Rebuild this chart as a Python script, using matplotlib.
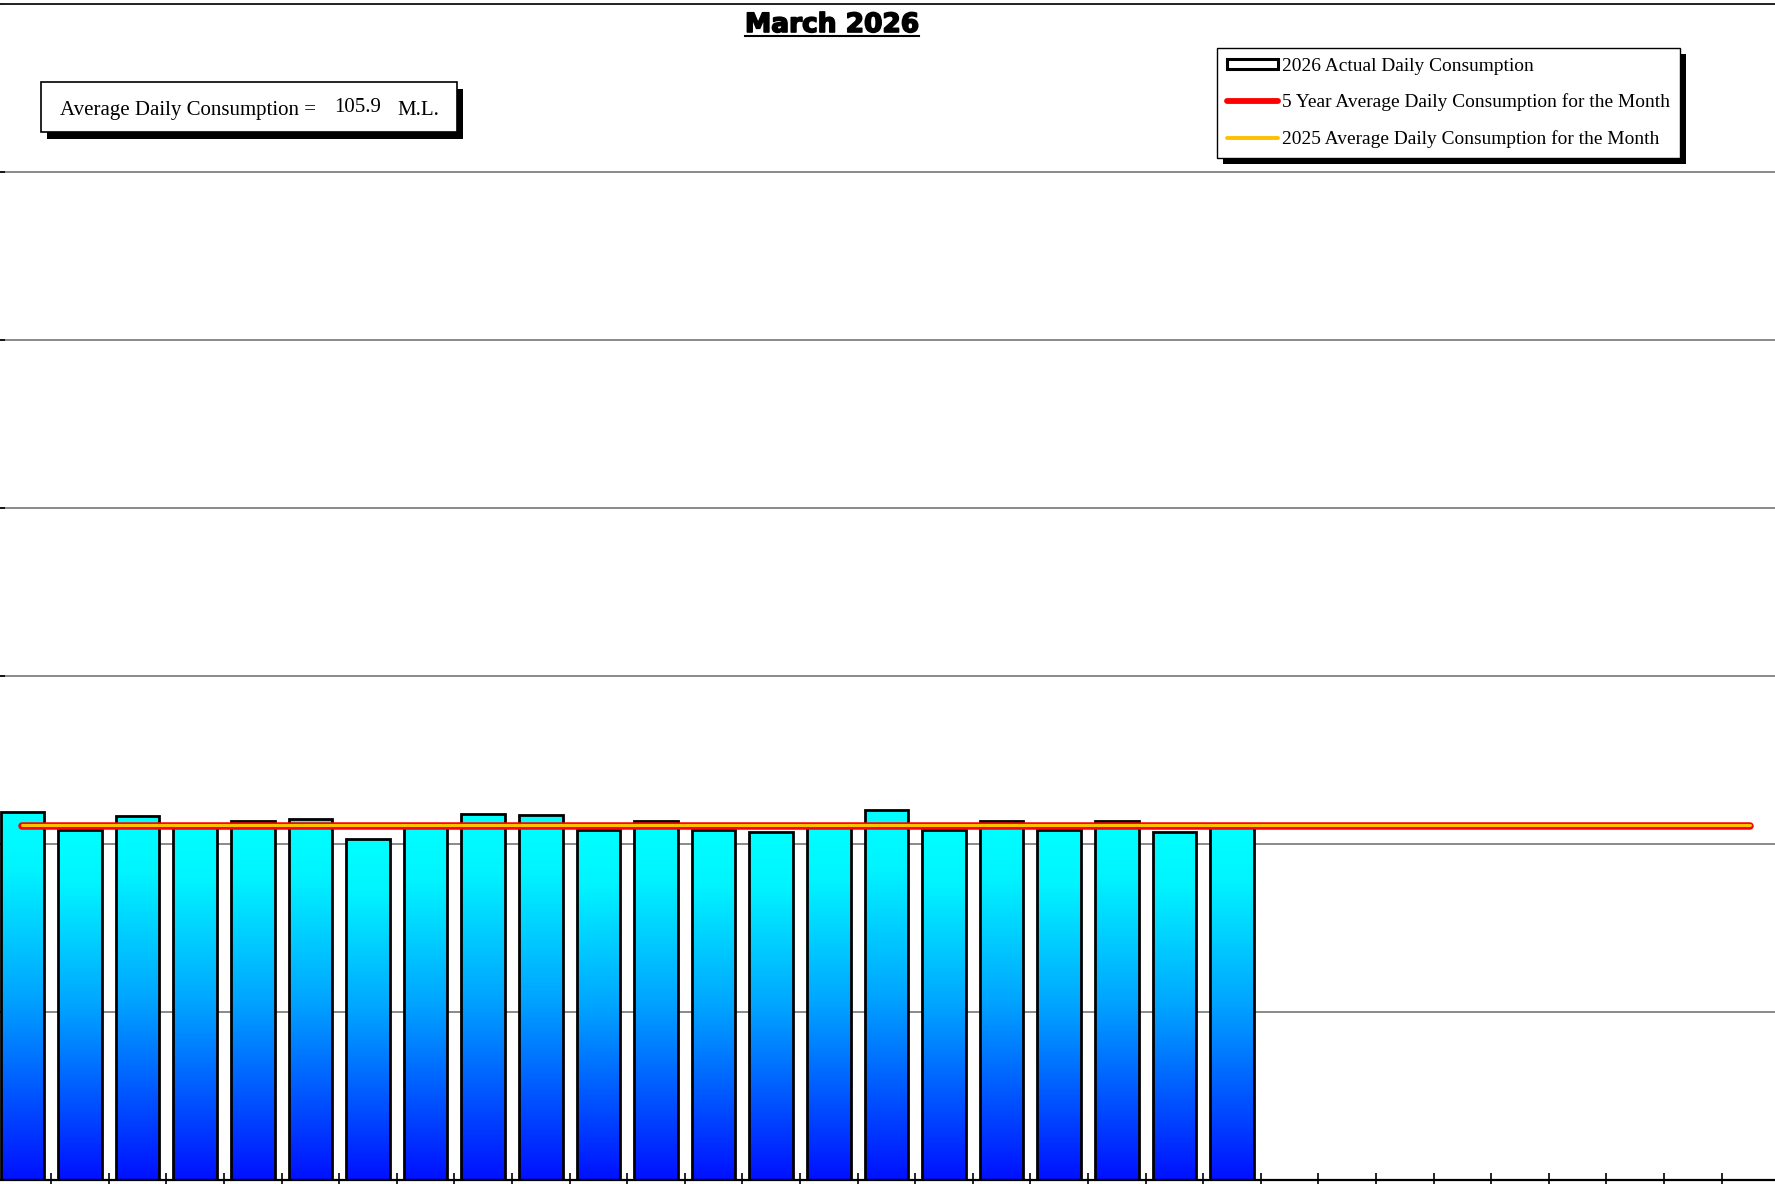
import numpy as np
import matplotlib.pyplot as plt
import matplotlib.patheffects as pe
from matplotlib.colors import LinearSegmentedColormap
from matplotlib.patches import Patch, Rectangle
from matplotlib.lines import Line2D

# March 2026 daily consumption (M.L.)
days = list(range(1, 32))
consumption_2026 = [109.6, 104.2, 108.2, 105.7, 106.9, 107.3, 101.3, 105.4, 108.9, 108.5,
                    104.0, 106.8, 104.1, 103.5, 105.4, 110.0, 104.2, 106.8, 104.0, 106.9,
                    103.6, 105.4]
five_year_avg = 105.4
avg_2025 = 105.5
month_avg = 105.9
title = "March 2026"
y_max = 350
y_step = 50

W, H = 1775, 1184


def fx(px):
    return px / W


def fy(py):
    return 1 - py / H


fig = plt.figure(figsize=(W / 100, H / 100), dpi=100)
ax = fig.add_axes([fx(-6.4), 4 / H, 1785.6 / W, 1176.5 / H])

x = np.arange(len(days))
bars = ax.bar(x[:len(consumption_2026)], consumption_2026, width=0.76,
              facecolor="none", edgecolor="black", linewidth=2.0, zorder=3)

grad = LinearSegmentedColormap.from_list(
    "bar_grad", [(0, "#0010ff"), (0.5, "#00a5ff"), (0.85, "#00f5ff"), (1, "#00ffff")])
ramp = np.linspace(0, 1, 256).reshape(-1, 1)
for b in bars:
    x0, y0 = b.get_x(), b.get_y()
    im = ax.imshow(ramp, cmap=grad, origin="lower", aspect="auto", interpolation="bilinear",
                   extent=[x0, x0 + b.get_width(), y0, y0 + b.get_height()], zorder=2)
    im.set_clip_path(b)

ax.plot(x, [five_year_avg] * len(days), color="red", lw=5.4,
        solid_capstyle="round", zorder=4)
ax.plot(x, [avg_2025] * len(days), color="#ffc000", lw=2.2,
        solid_capstyle="round", zorder=5)

ax.set_xlim(-0.5, len(days) - 0.5)
ax.set_ylim(0, y_max)
ax.set_yticks(np.arange(0, y_max + 1, y_step))
ax.set_xticks(np.arange(-0.5, len(days)))
ax.tick_params(axis="x", direction="inout", length=10, width=1.2,
               labelbottom=False, color="black")
ax.tick_params(axis="y", direction="inout", length=16, width=1.2, labelleft=False)
ax.grid(axis="y", color="#808080", lw=1.3)
ax.set_axisbelow(True)
for s in ["left", "right"]:
    ax.spines[s].set_visible(False)
ax.spines["top"].set_color("#222222")
ax.spines["top"].set_linewidth(1.4)
ax.spines["bottom"].set_linewidth(1.6)

# title
t = fig.text(fx(832), fy(32), title, ha="center", va="baseline",
             fontsize=19, fontweight="bold", family="DejaVu Sans",
             path_effects=[pe.withStroke(linewidth=1.2, foreground="black")])

# average text box
fig.add_artist(Rectangle((fx(47), fy(139)), fx(457) - fx(41), (132 - 82) / H,
                         transform=fig.transFigure, facecolor="black",
                         edgecolor="none", zorder=5))
fig.add_artist(Rectangle((fx(41), fy(132)), fx(457) - fx(41), (132 - 82) / H,
                         transform=fig.transFigure, facecolor="white",
                         edgecolor="black", lw=1.2, zorder=6))
serif = "Liberation Serif"
fig.text(fx(60), fy(110.5), "Average Daily Consumption =", ha="left", va="center",
         fontsize=15, family=serif, zorder=7)
fig.text(fx(334), fy(107.5), f"{month_avg:.1f}", ha="left", va="center",
         fontsize=15, family=serif, zorder=7)
fig.text(fx(397), fy(110.5), "M.L.", ha="left", va="center",
         fontsize=15, family=serif, zorder=7)

# legend
handles = [
    Patch(facecolor="white", edgecolor="black", lw=2.2),
    Line2D([], [], color="red", lw=4.2, solid_capstyle="round"),
    Line2D([], [], color="#ffc000", lw=2.8, solid_capstyle="round"),
]
labels = [
    "2026 Actual Daily Consumption",
    "5 Year Average Daily Consumption for the Month",
    "2025 Average Daily Consumption for the Month",
]
leg = fig.legend(handles, labels, loc="upper left",
                 bbox_to_anchor=(fx(1217), fy(48)), bbox_transform=fig.transFigure,
                 frameon=True, fancybox=False, edgecolor="black", framealpha=1,
                 prop={"family": serif, "size": 13.95}, handlelength=2.65,
                 handleheight=0.45, handletextpad=0.2, labelspacing=0.97,
                 borderpad=0.5, borderaxespad=0)
leg.get_frame().set_linewidth(1.0)
leg.set_zorder(8)

fig.canvas.draw()
r = fig.canvas.get_renderer()

bb = leg.get_window_extent(r)
fig.add_artist(Rectangle((bb.x0 / W + fx(6), bb.y0 / H - 6 / H), bb.width / W, bb.height / H,
                         transform=fig.transFigure, facecolor="black",
                         edgecolor="none", zorder=7))

tb = t.get_window_extent(r)
fig.add_artist(Line2D([tb.x0 / W, tb.x1 / W], [fy(35.5), fy(35.5)],
                      transform=fig.transFigure, color="black", lw=1.5))

fig.savefig("out.png", dpi=100)
